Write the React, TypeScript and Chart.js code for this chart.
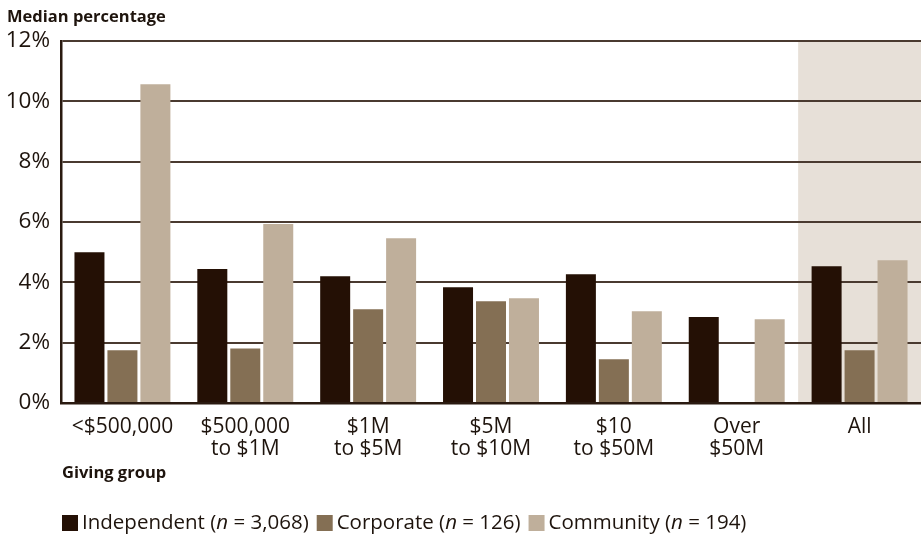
import React, { useEffect, useRef } from "react";
import { Chart, registerables } from "chart.js";

Chart.register(...registerables);

const categories: string[][] = [
  ["<$500,000"],
  ["$500,000", "to $1M"],
  ["$1M", "to $5M"],
  ["$5M", "to $10M"],
  ["$10", "to $50M"],
  ["Over", "$50M"],
  ["All"],
];
const independent: (number | null)[] = [5.0, 4.44, 4.2, 3.84, 4.27, 2.85, 4.53];
const corporate: (number | null)[] = [1.75, 1.81, 3.11, 3.37, 1.45, null, 1.75];
const community: (number | null)[] = [10.57, 5.93, 5.46, 3.47, 3.04, 2.78, 4.73];

const seriesNames = ["Independent", "Corporate", "Community"];
const seriesN = ["3,068", "126", "194"];
const colors = ["#241005", "#846f54", "#bfaf9b"];

const FONT = "'Open Sans', 'Noto Sans', sans-serif";
const TEXT = "#1e140d";

const decorPlugin = {
  id: "decor",
  beforeDraw(chart: any) {
    const { ctx, chartArea, scales } = chart;
    const x = scales.x;
    const w = (chartArea.right - chartArea.left) / categories.length;
    const c = x.getPixelForValue(categories.length - 1);
    ctx.save();
    ctx.fillStyle = "#e7e0d8";
    ctx.fillRect(c - w / 2, chartArea.top, w, chartArea.bottom - chartArea.top);
    ctx.restore();
  },
  afterDraw(chart: any) {
    const { ctx } = chart;
    ctx.save();
    ctx.fillStyle = TEXT;
    ctx.textBaseline = "middle";
    ctx.textAlign = "left";
    ctx.font = `bold 16.5px ${FONT}`;
    ctx.fillText("Median percentage", 7, 17);
    ctx.fillText("Giving group", 62, 473);

    // legend
    let lx = 62;
    const ly = 523;
    const reg = `20.5px ${FONT}`;
    const ital = `italic 20.5px ${FONT}`;
    seriesNames.forEach((name, i) => {
      ctx.fillStyle = colors[i];
      ctx.fillRect(lx, ly - 8, 16, 16);
      lx += 20;
      ctx.fillStyle = TEXT;
      ctx.font = reg;
      const p1 = `${name} (`;
      ctx.fillText(p1, lx, ly);
      lx += ctx.measureText(p1).width;
      ctx.font = ital;
      ctx.fillText("n", lx, ly);
      lx += ctx.measureText("n").width;
      ctx.font = reg;
      const p2 = ` = ${seriesN[i]})`;
      ctx.fillText(p2, lx, ly);
      lx += ctx.measureText(p2).width + 8;
    });
    ctx.restore();
  },
};

export default function App() {
  const ref = useRef<HTMLCanvasElement | null>(null);
  useEffect(() => {
    document.body.style.margin = "0";
    const canvas = ref.current;
    if (!canvas) return;
    const data = [independent, corporate, community];
    const chart = new Chart(canvas, {
      type: "bar",
      data: {
        labels: categories,
        datasets: seriesNames.map((name, i) => ({
          label: name,
          data: data[i],
          backgroundColor: colors[i],
          borderWidth: 0,
          categoryPercentage: 0.805,
          barPercentage: 0.91,
        })),
      },
      options: {
        responsive: false,
        animation: false,
        layout: { padding: { top: 41, left: 0, right: 0, bottom: 0 } },
        plugins: {
          legend: { display: false },
          tooltip: { enabled: false },
        },
        scales: {
          x: {
            grid: { display: false },
            border: { display: true, color: "#2a1a10", width: 2.5 },
            ticks: {
              color: TEXT,
              font: { family: FONT, size: 21, lineHeight: 1.05 },
              padding: 5,
              maxRotation: 0,
              autoSkip: false,
            },
            afterFit(scale: any) {
              scale.height = 142;
            },
          },
          y: {
            min: 0,
            max: 12,
            ticks: {
              stepSize: 2,
              color: TEXT,
              font: { family: FONT, size: 22.5 },
              padding: 11,
              callback: (v: any) => `${v}%`,
            },
            grid: { color: "#4a3a30", lineWidth: 2, drawTicks: false },
            border: { display: true, color: "#2a1a10", width: 2.5 },
            afterFit(scale: any) {
              scale.width = 61;
            },
          },
        },
      },
      plugins: [decorPlugin],
    });
    return () => chart.destroy();
  }, []);
  return (
    <div style={{ width: 921, height: 545 }}>
      <canvas ref={ref} width={921} height={545} />
    </div>
  );
}
